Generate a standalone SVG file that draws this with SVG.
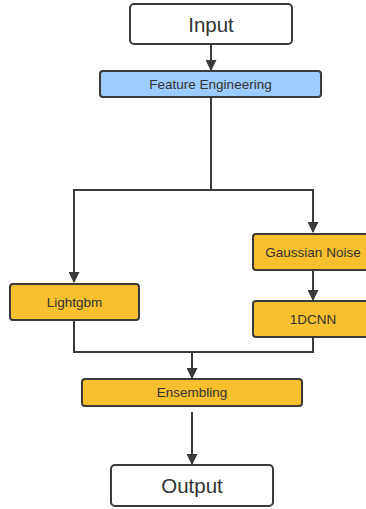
<svg xmlns="http://www.w3.org/2000/svg" width="366" height="509" viewBox="0 0 366 509">
<style>
.box{stroke:#3a3a3a;stroke-width:2}
.w{fill:#ffffff}
.o{fill:#f8bf2f}
.b{fill:#9ccbff}
.t{font-family:"Liberation Sans",Arial,sans-serif;fill:#333;text-anchor:middle;dominant-baseline:central}
.big{font-size:20.5px}
.sm{font-size:13.5px}
.ln{fill:none;stroke:#3a3a3a;stroke-width:2}
</style>
<defs>
<marker id="ah" viewBox="0 0 10 10" refX="9" refY="5" markerWidth="5.5" markerHeight="5.5" orient="auto" markerUnits="strokeWidth">
<path d="M0,0 L10,5 L0,10 z" fill="#3a3a3a"/>
</marker>
</defs>
<rect width="366" height="509" fill="#fff"/>
<g id="connectors">
<path class="ln" d="M211,44 V70" marker-end="url(#ah)"/>
<path class="ln" d="M211,97 V190 H74 V282" marker-end="url(#ah)"/>
<path class="ln" d="M211,190 H313 V232" marker-end="url(#ah)"/>
<path class="ln" d="M313,270 V300" marker-end="url(#ah)"/>
<path class="ln" d="M74,320 V352 H313 V337"/>
<path class="ln" d="M192,352 V378" marker-end="url(#ah)"/>
<path class="ln" d="M192,412 V464" marker-end="url(#ah)"/>
</g>
<g id="input">
<rect class="box w" x="130" y="4" width="162" height="40" rx="4"/>
<text class="t big" x="211" y="24">Input</text>
</g>
<g id="feature-engineering">
<rect class="box b" x="100" y="71" width="221" height="26" rx="3"/>
<text class="t sm" x="210.5" y="84">Feature Engineering</text>
</g>
<g id="lightgbm">
<rect class="box o" x="10" y="284" width="129" height="36" rx="3"/>
<text class="t sm" x="74.5" y="302">Lightgbm</text>
</g>
<g id="gaussian-noise">
<rect class="box o" x="253" y="234" width="120" height="36" rx="3"/>
<text class="t sm" x="313" y="252">Gaussian Noise</text>
</g>
<g id="1dcnn">
<rect class="box o" x="253" y="301" width="120" height="36" rx="3"/>
<text class="t sm" x="313" y="319">1DCNN</text>
</g>
<g id="ensembling">
<rect class="box o" x="82" y="379" width="220" height="27" rx="3"/>
<text class="t sm" x="192" y="392.5">Ensembling</text>
</g>
<g id="output">
<rect class="box w" x="111" y="465" width="162" height="41" rx="4"/>
<text class="t big" x="192" y="485.5">Output</text>
</g>
</svg>
